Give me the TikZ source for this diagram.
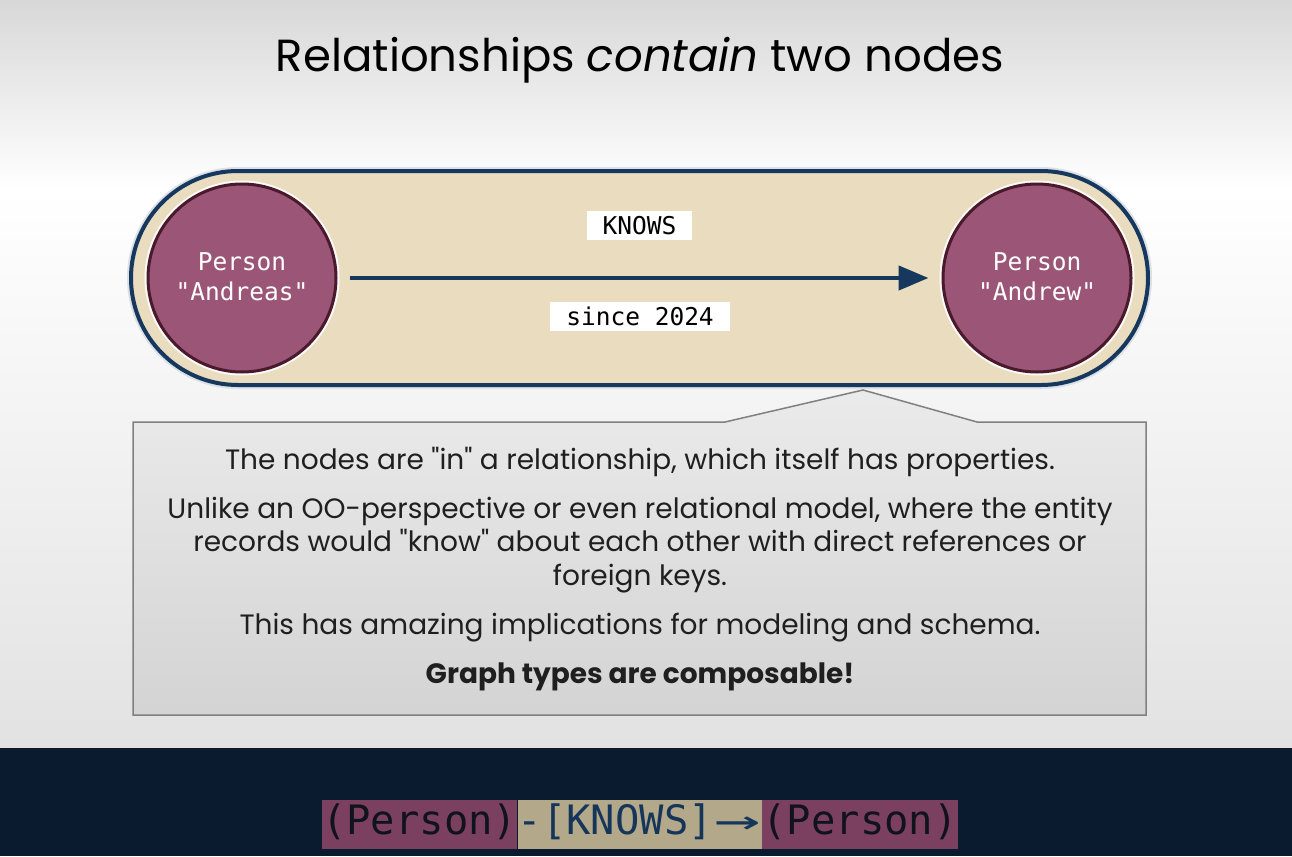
\documentclass[tikz,border=0pt]{standalone}
\usepackage{fontspec}
\setmainfont{Poppins}[Ligatures=TeXOff]
\newfontfamily\codefont{DejaVu Sans Mono}
\usetikzlibrary{arrows.meta,positioning}
\definecolor{pillfill}{HTML}{E9DCBF}
\definecolor{pillline}{HTML}{17385E}
\definecolor{nodefill}{HTML}{9B5577}
\definecolor{nodeline}{HTML}{4A1A2C}
\definecolor{band}{HTML}{0B1B2F}
\definecolor{codepurple}{HTML}{7B4060}
\definecolor{codetan}{HTML}{B3A98A}
\definecolor{codetext}{HTML}{10131C}
\definecolor{codeblue}{HTML}{15365A}
\definecolor{calloutline}{HTML}{808080}
\definecolor{bgtop}{HTML}{D8D8D8}
\definecolor{bgbottom}{HTML}{E2E2E2}
\newcommand\longarrow{\makebox[48.8pt]{\scalebox{1.9}[1]{→}}}
\tikzset{
  person/.style={circle, minimum size=188pt, inner sep=0pt, fill=nodefill,
    draw=nodeline, line width=3pt, text=white, align=center,
    font=\codefont\fontsize{24.5}{30}\selectfont,
    preaction={draw=white!90!pillfill, line width=7pt}},
  tag/.style={fill=white, inner sep=0pt, minimum height=29pt,
    font=\codefont\fontsize{24.5}{26}\selectfont, text=black},
  body/.style={align=center, text=black!88, font=\fontsize{28}{33.5}\selectfont},
  codebox/.style={inner sep=0pt, minimum height=49pt, text height=30pt, text depth=10pt,
    font=\codefont\fontsize{40.5}{44}\selectfont, text=codetext}
}
\begin{document}
\begin{tikzpicture}[x=1pt,y=-1pt]
\useasboundingbox (0,0) rectangle (1292,856);
% background
\shade[top color=bgtop, bottom color=white] (0,0) rectangle (1292,190);
\shade[top color=white, bottom color=bgbottom] (0,189.5) rectangle (1292,748);
\fill[band] (0,748) rectangle (1292,856);

% title
\node[font=\fontsize{45}{50}\selectfont, text=black] (title) at (640,60)
  {Relationships \textit{contain} two nodes};

% relationship pill
\draw[white!85!pillline, line width=8pt, rounded corners=107pt] (131,171) rectangle (1148,385);
\draw[pillline, fill=pillfill, line width=4pt, rounded corners=107pt] (131,171) rectangle (1148,385);

% the two person nodes
\node[person] (andreas) at (242,278) {\raisebox{3pt}{Person}\\\raisebox{3pt}{"Andreas"}};
\node[person] (andrew) at (1037,278) {\raisebox{3pt}{Person}\\\raisebox{3pt}{"Andrew"}};

% relationship arrow
\draw[pillline, line width=4.5pt, -{Triangle[length=30pt,width=24pt]},
  shorten <=12pt, shorten >=13pt] (andreas) -- (andrew);

\node[tag, minimum width=105pt] (knows) at (639.5,225.5) {KNOWS};
\node[tag, minimum width=180pt] (since) at (640,316.5) {since 2024};

% callout
\shade[top color=black!8, bottom color=black!17] (133,422) -- (725,422) -- (863,390) -- (977,422)
  -- (1146,422) -- (1146,715) -- (133,715) -- cycle;
\draw[calloutline, line width=1.5pt] (133,422) -- (725,422) -- (863,390) -- (977,422)
  -- (1146,422) -- (1146,715) -- (133,715) -- cycle;

\node[body] (p1) at (640,462) {The nodes are "in" a relationship, which itself has properties.};
\node[body] (p2) at (640,545) {Unlike an OO-perspective or even relational model, where the entity\\
  records would "know" about each other with direct references or\\ foreign keys.};
\node[body] (p3) at (640,628) {This has amazing implications for modeling and schema.};
\node[body, font=\fontsize{28}{33.5}\selectfont\bfseries] (p4) at (640,677) {Graph types are composable!};

% pattern in the bottom band
\node[codebox, fill=codepurple, minimum width=195pt, anchor=west] (c1) at (322,824.5) {(Person)};
\node[codebox, fill=codetan, minimum width=244pt, anchor=west, text=codeblue] (c2) at (c1.east) {-[KNOWS]\longarrow};
\node[codebox, fill=codepurple, minimum width=196pt, anchor=west] (c3) at (c2.east) {(Person)};
\end{tikzpicture}
\end{document}
